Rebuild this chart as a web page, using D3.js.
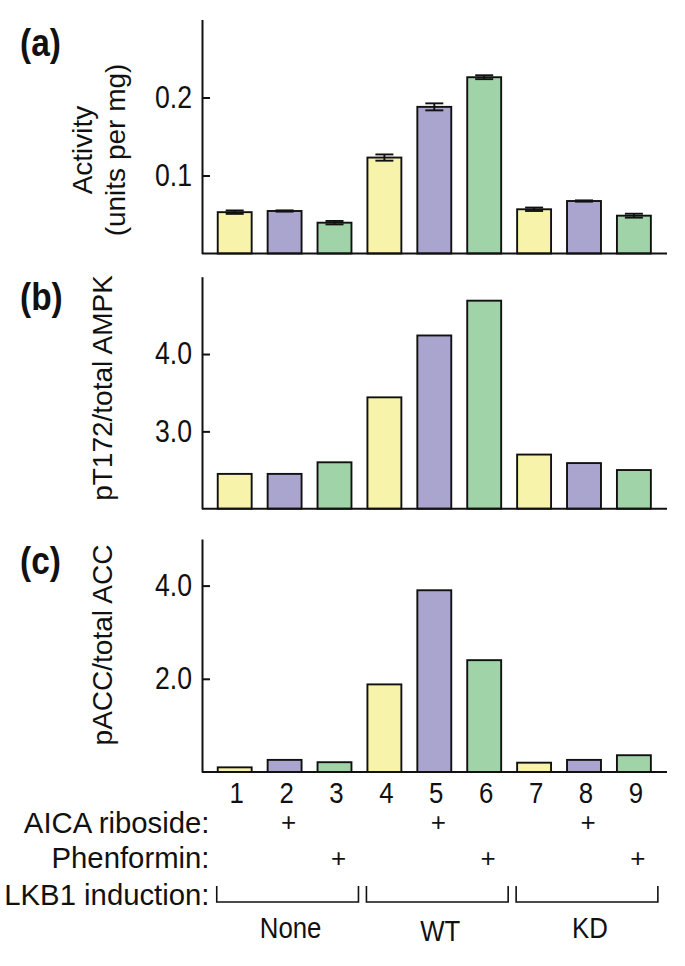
<!DOCTYPE html>
<html>
<head>
<meta charset="utf-8">
<script src="https://cdn.jsdelivr.net/npm/d3@7"></script>
<style>
  html, body { margin: 0; padding: 0; background: #fff; }
  svg { display: block; }
  .lab { font-family: "Liberation Sans", Arial, sans-serif; fill: #111; }
</style>
</head>
<body>
<script>
// ---------- data ----------
const lanes = ["1", "2", "3", "4", "5", "6", "7", "8", "9"];
const treatment = ["none", "aica", "phen", "none", "aica", "phen", "none", "aica", "phen"];
const activity    = [0.053, 0.0545, 0.0395, 0.123, 0.188, 0.226, 0.0567, 0.0673, 0.0485];
const activityErr = [0.0022, 0.0008, 0.0022, 0.004, 0.0045, 0.0025, 0.0022, 0.0008, 0.0025];
const pT172 = [2.45, 2.45, 2.60, 3.44, 4.24, 4.69, 2.70, 2.59, 2.50];
const pACC  = [0.10, 0.26, 0.21, 1.88, 3.90, 2.40, 0.20, 0.26, 0.36];
const ticksA = [0.1, 0.2];
const ticksB = [3.0, 4.0];
const ticksC = [2.0, 4.0];
const aicaRow = ["", "+", "", "", "+", "", "", "+", ""];
const phenRow = ["", "", "+", "", "", "+", "", "", "+"];
const groupNames = ["None", "WT", "KD"];
const groupFirst = ["1", "4", "7"];
const groupLast  = ["3", "6", "9"];
const colors = { none: "#f8f3aa", aica: "#aaa5cf", phen: "#a0d4a8" };

// ---------- layout ----------
const W = 685, H = 966;
const axisX = 202, axisRight = 667;
const NARROW = 0.86;
const svg = d3.select("body").append("svg").attr("width", W).attr("height", H);

const x = d3.scaleBand().domain(lanes)
  .range([209.75, 658.85]).paddingInner(0.32).paddingOuter(0.16);

function narrowText(parent, t, px, py, size, anchor) {
  return parent.append("text").attr("class", "lab")
    .attr("transform", `translate(${px},${py}) scale(${NARROW},1)`)
    .attr("text-anchor", anchor || "middle")
    .style("font-size", size + "px").text(t);
}

function panel(opt) {
  const y = d3.scaleLinear().domain(opt.domain).range([opt.bottom, opt.top]);
  const g = svg.append("g");
  g.selectAll("rect").data(opt.values).join("rect")
    .attr("x", (d, i) => x(lanes[i]))
    .attr("y", d => y(d))
    .attr("width", x.bandwidth())
    .attr("height", d => y(opt.domain[0]) - y(d))
    .attr("fill", (d, i) => colors[treatment[i]])
    .attr("stroke", "#111").attr("stroke-width", 1.9);
  if (opt.errors) {
    const eg = g.append("g").attr("stroke", "#111").attr("stroke-width", 1.9).attr("fill", "none");
    opt.values.forEach((v, i) => {
      const cx = x(lanes[i]) + x.bandwidth() / 2;
      const e = opt.errors[i];
      eg.append("line").attr("x1", cx).attr("x2", cx).attr("y1", y(v + e)).attr("y2", y(v - e));
      eg.append("line").attr("x1", cx - 9).attr("x2", cx + 9).attr("y1", y(v + e)).attr("y2", y(v + e));
      eg.append("line").attr("x1", cx - 9).attr("x2", cx + 9).attr("y1", y(v - e)).attr("y2", y(v - e));
    });
  }
  const ax = g.append("g").attr("transform", `translate(${axisX},0)`)
    .call(d3.axisLeft(y).tickValues(opt.ticks).tickFormat(opt.fmt)
      .tickSizeInner(-8).tickSizeOuter(0).tickPadding(10 / NARROW));
  ax.select(".domain").attr("stroke", "#111").attr("stroke-width", 2);
  ax.selectAll(".tick line").attr("stroke", "#111").attr("stroke-width", 2);
  ax.selectAll(".tick text").attr("class", "lab").attr("fill", "#111")
    .attr("transform", `scale(${NARROW},1)`).style("font-size", "31px");
  g.append("line").attr("x1", axisX).attr("x2", axisRight)
    .attr("y1", y(opt.domain[0])).attr("y2", y(opt.domain[0]))
    .attr("stroke", "#111").attr("stroke-width", 2);
  opt.label.forEach((t, k) => {
    svg.append("text").attr("class", "lab")
      .attr("transform", `translate(${opt.labelX[k]},${opt.labelY}) rotate(-90)`)
      .attr("text-anchor", "middle").style("font-size", "28px").text(t);
  });
  svg.append("text").attr("class", "lab")
    .attr("transform", `translate(20,${opt.letterY}) scale(0.88,1)`)
    .style("font-size", "38px").style("font-weight", "bold").text(opt.letter);
}

panel({ values: activity, errors: activityErr, domain: [0, 0.3], top: 19.5, bottom: 253.5,
  ticks: ticksA, fmt: d3.format(".1f"), label: ["Activity", "(units per mg)"], labelX: [92, 125], labelY: 150,
  letter: "(a)", letterY: 56 });
panel({ values: pT172, domain: [2, 5], top: 276.7, bottom: 508.7,
  ticks: ticksB, fmt: d3.format(".1f"), label: ["pT172/total AMPK"], labelX: [112], labelY: 388,
  letter: "(b)", letterY: 310 });
panel({ values: pACC, domain: [0, 5], top: 539, bottom: 772,
  ticks: ticksC, fmt: d3.format(".1f"), label: ["pACC/total ACC"], labelX: [112], labelY: 645,
  letter: "(c)", letterY: 574 });

// ---------- bottom annotation ----------
const cx = d => x(d) + x.bandwidth() / 2;
const numG = svg.append("g");
lanes.forEach(d => narrowText(numG, d, cx(d) + 2, 803, 30));

const rowLabels = ["AICA riboside:", "Phenformin:", "LKB1 induction:"];
const rowY = [833, 867.5, 904.5];
const plusY = [831, 867];
rowLabels.forEach((t, i) => {
  svg.append("text").attr("class", "lab").attr("x", 209.5).attr("y", rowY[i])
    .attr("text-anchor", "end").style("font-size", "29.3px").text(t);
});
[aicaRow, phenRow].forEach((row, r) => {
  svg.append("g").selectAll("text").data(lanes.filter((d, i) => row[i] !== "")).join("text")
    .attr("class", "lab").attr("x", d => cx(d) + 4).attr("y", plusY[r])
    .attr("text-anchor", "middle").style("font-size", "26px").text(d => row[lanes.indexOf(d)]);
});
const bg = svg.append("g").attr("stroke", "#111").attr("stroke-width", 1.6).attr("fill", "none");
groupNames.forEach((name, i) => {
  const x0 = x(groupFirst[i]) - 1, x1 = x(groupLast[i]) + x.bandwidth() + 7;
  bg.append("path").attr("d", `M${x0},886V902H${x1}V886`);
  narrowText(svg, name, (x0 + x1) / 2 + 3, name === "WT" ? 941 : 938, 30);
});
</script>
</body>
</html>
